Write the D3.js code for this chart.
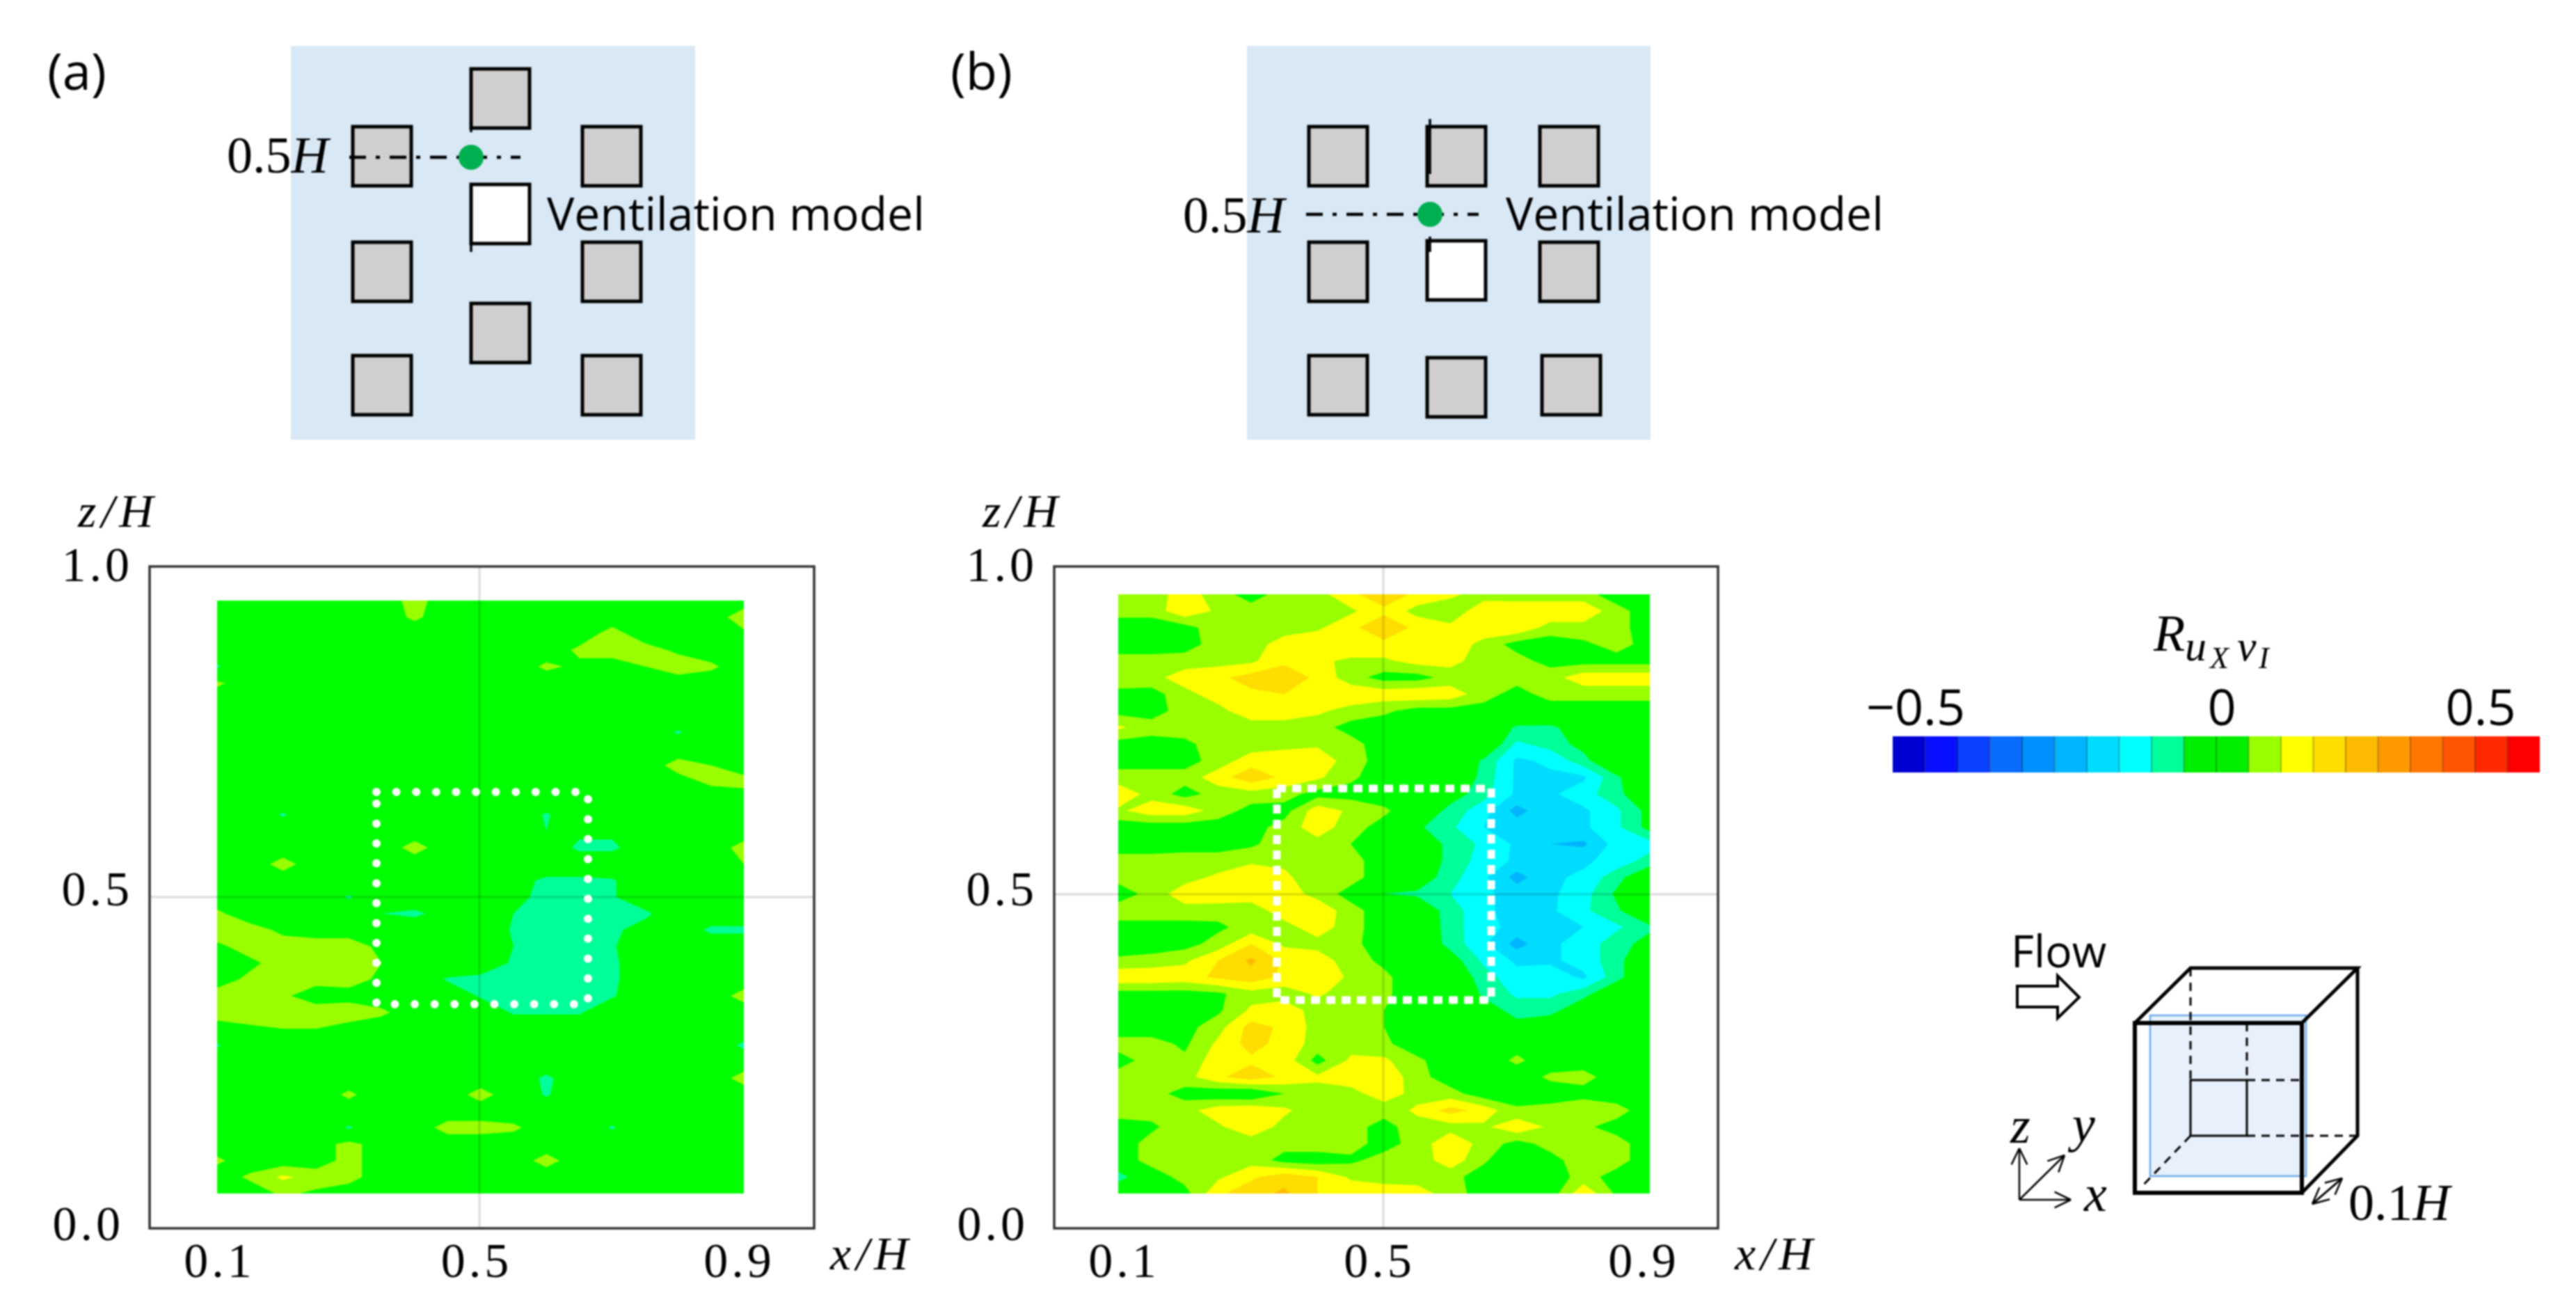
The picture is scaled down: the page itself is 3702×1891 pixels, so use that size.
<!DOCTYPE html>
<html><head><meta charset="utf-8">
<script src="https://cdn.jsdelivr.net/npm/d3@7"></script>
<style>
html,body{margin:0;padding:0;background:#fff}
svg{display:block;filter:blur(0.9px)}
.sans{font-family:"Open Sans","Noto Sans",sans-serif;fill:#000}
.serif{font-family:"Liberation Serif",serif;fill:#000}
.it{font-style:italic}
</style></head><body>
<svg id="c" width="3702" height="1891" xmlns="http://www.w3.org/2000/svg"></svg>
<script>
// Correlation values R, in hundredths. Rows run from top (high z/H) to bottom; columns x/H = 0.1 ... 0.9.
const rowsA = [
[2,2,2,2,2,2,7,2,2,2,2,2,2,2,2,2,2],
[2,2,2,2,2,2,6,2,2,2,2,2,2,2,2,2,8],
[2,2,2,2,2,2,2,2,2,2,2,2,7,2,2,2,4],
[2,2,2,2,2,2,2,2,2,2,2,6,7,7,4,2,2],
[-6,2,2,2,2,2,2,2,2,2,6,4,3,5,8,6,2],
[6,2,2,2,2,2,2,2,2,2,2,2,2,2,2,2,2],
[2,2,2,2,2,2,2,2,2,2,2,2,2,2,2,2,2],
[2,2,2,2,2,2,2,2,2,2,2,2,2,2,2,2,2],
[2,2,2,2,2,2,2,2,2,2,2,2,2,2,-6,2,2],
[2,2,2,2,2,2,2,2,2,2,2,2,2,2,2,2,2],
[2,2,2,2,2,2,2,2,2,2,2,2,2,2,7,5,2],
[2,2,2,2,2,2,2,2,2,2,2,2,2,2,3,6,7],
[2,2,2,2,2,2,2,2,2,2,2,2,2,2,2,2,2],
[2,2,-6,2,2,2,2,2,2,2,-6,2,2,2,2,2,2],
[2,2,2,2,2,2,2,2,2,2,-5,-3,-3,2,2,2,2],
[2,2,2,2,2,2,7,2,2,2,2,-7,-7,1,2,2,7],
[2,2,7,2,2,2,2,2,2,2,2,2,2,2,2,2,5],
[2,2,2,2,2,2,2,2,2,-1,-7,-7,-6,2,2,2,2],
[2,2,2,2,-6,2,2,2,2,-3,-7,-7,-6,2,2,2,2],
[6,2,2,2,2,-5,-7,-1,2,-5,-7,-8,-7,-7,2,2,2],
[8,7,4,3,3,2,2,2,2,-6,-7,-7,-7,-1,2,-7,-7],
[4,7,7,7,7,4,2,2,2,-5,-7,-7,-6,2,2,2,2],
[3,4,7,7,7,5,2,2,0,-6,-7,-7,-7,2,2,2,2],
[3,6,7,7,7,4,2,-6,-7,-7,-7,-7,-7,2,2,2,2],
[7,7,6,2,3,2,2,2,-6,-7,-7,-7,-6,2,2,2,7],
[7,8,8,8,8,6,2,2,2,-6,-6,-6,2,2,2,2,2],
[3,4,5,5,3,2,2,2,2,2,2,2,2,2,2,2,2],
[-6,2,2,2,2,2,2,2,2,2,2,2,2,2,2,2,-7],
[2,2,2,2,2,2,2,2,2,2,2,2,2,2,2,2,2],
[2,2,2,2,2,2,2,2,2,2,-7,2,2,2,2,2,7],
[2,2,2,2,6,2,2,2,7,2,-6,2,2,2,2,2,2],
[2,2,2,2,2,2,2,2,2,2,2,2,2,2,2,2,2],
[2,2,2,2,-6,2,2,7,7,6,2,2,-6,2,2,2,2],
[2,2,2,2,7,2,2,2,2,2,2,2,2,2,2,2,2],
[6,2,2,2,7,2,2,2,2,2,7,2,2,2,2,2,2],
[2,6,11,8,7,2,2,2,2,2,2,2,2,2,2,2,2],
[2,2,6,4,2,2,2,2,2,2,2,2,2,2,2,2,2]
];
const rowsB = [
[7,7,13,7,3,7,8,14,18,14,11,8,7,7,7,2,2],
[7,7,14,9,7,7,7,9,14,8,7,13,14,14,14,7,2],
[2,2,3,8,7,7,9,14,18,14,11,14,14,8,8,7,2],
[2,2,3,7,7,13,14,14,14,14,14,8,3,2,4,7,3],
[7,7,7,8,9,14,11,9,9,12,12,7,7,3,3,3,3],
[7,8,13,14,17,18,14,7,3,3,7,7,7,8,13,13,13],
[4,3,8,13,14,15,14,14,13,14,13,7,3,7,7,7,7],
[3,3,7,8,14,14,11,8,6,3,3,3,3,2,2,2,2],
[11,7,7,7,7,7,7,3,2,2,2,2,-6,-6,-2,1,2],
[3,3,4,7,7,8,9,7,2,2,2,2,-11,-8,-3,2,2],
[3,3,3,7,13,14,14,7,3,2,2,-6,-16,-14,-7,2,2],
[7,7,7,13,18,14,11,6,2,2,2,-7,-16,-16,-16,-6,2],
[14,8,3,7,8,7,3,3,2,2,-2,-8,-16,-16,-12,-7,2],
[9,13,13,8,3,3,13,9,6,1,-7,-13,-22,-16,-16,-11,-3],
[2,2,2,2,3,7,13,7,3,-4,-9,-15,-17,-16,-16,-11,-3],
[2,2,3,3,4,8,8,5,1,1,-7,-11,-16,-20,-21,-13,-12],
[7,7,7,7,9,9,7,7,2,1,-7,-12,-16,-16,-16,-13,-8],
[7,7,8,11,14,11,7,7,2,-1,-8,-14,-22,-16,-14,-7,1],
[2,7,13,14,13,13,8,3,-5,-6,-10,-14,-17,-16,-12,-4,2],
[8,8,8,7,7,13,14,7,2,1,-8,-13,-19,-16,-11,-6,2],
[3,3,3,4,7,8,13,7,2,2,-8,-13,-17,-16,-15,-11,-6],
[2,2,3,7,15,9,8,6,3,1,-7,-14,-22,-16,-13,-7,-3],
[6,7,9,15,21,14,13,7,4,2,-2,-11,-16,-16,-13,-7,2],
[14,14,13,16,18,14,14,9,6,2,1,-8,-13,-12,-16,-7,2],
[3,3,3,4,8,7,11,7,6,2,2,-6,-11,-11,-7,1,2],
[2,2,2,4,11,14,7,7,5,2,2,-2,-7,-7,0,2,2],
[2,2,3,8,17,14,8,7,5,2,2,2,-3,0,2,2,2],
[7,7,4,11,17,13,8,8,6,2,2,2,3,4,2,2,2],
[3,7,6,13,14,13,3,11,11,6,2,2,6,2,2,2,2],
[7,7,8,14,18,14,11,13,14,7,2,2,2,6,7,2,2],
[7,7,3,1,0,5,8,8,13,8,7,2,2,2,3,2,2],
[7,7,8,13,14,11,7,7,7,11,17,13,6,7,9,7,2],
[3,4,8,9,14,8,7,7,3,8,8,9,14,9,6,3,2],
[2,7,7,7,7,7,8,7,3,7,14,8,3,7,8,7,2],
[2,7,7,7,8,3,2,4,7,7,13,6,-1,3,8,7,2],
[-8,2,7,9,14,18,15,9,7,7,7,2,2,2,7,3,2],
[2,2,3,14,18,21,15,14,14,13,7,3,2,2,14,4,2]
];
const bandFloor = d3.range(-50, 50, 5);
const bandColors = ["#0000d0","#0810ff","#0a40ff","#0a6cff","#0090ff","#00b4ff","#00dcff","#00ffff","#00ff99","#00ff00","#00ff00","#99ff00","#ffff00","#ffdd00","#ffbb00","#ff9900","#ff7700","#ff5500","#ff2a00","#ff0000"];
const axisTicks = [0.1, 0.5, 0.9];
const zTicks = [0.0, 0.5, 1.0];
const legendTicks = [-0.5, 0, 0.5];

const W = 17, H = 37;
const svg = d3.select("#c");
const fmt = d3.format(".1f");

const panels = [
 {rows: rowsA, xr: [312,1069], top: 863, bot: 1715, f: [215,814,1170,1765],
  cx: 689, cy: 1289, box: [541,1138,845,1443], dash: "0 28.6", dw: 12, cap: "round",
  xdx: [3,-6,-7], xAxisLab: 1193, zAxisLab: 112, zdy:[1782,1301,835], zr:[178,191,191]},
 {rows: rowsB, xr: [1607,2371], top: 854, bot: 1715, f: [1515,814,2469,1765],
  cx: 1988, cy: 1285, box: [1835,1133,2143,1437], dash: "13 9", dw: 11, cap: "butt",
  xdx: [8,-7,-9], xAxisLab: 2493, zAxisLab: 1412, zdy:[1782,1301,835], zr:[1478,1491,1491]}
];

const defs = svg.append("defs");
panels.forEach((p, pi) => {
  const g = svg.append("g");
  const x = d3.scaleLinear().domain([0.1,0.9]).range(p.xr);
  const z = d3.scaleLinear().domain([0,1]).range([1762,816]);
  // heat-map drawn from the value grid with d3.contours
  const flat = p.rows.flat();
  const contours = d3.contours().size([W,H]).thresholds(bandFloor)(flat);
  const ix = d3.scaleLinear().domain([0.5,W-0.5]).range(p.xr);
  const iy = d3.scaleLinear().domain([0.5,H-0.5]).range([p.top,p.bot]);
  const path = d3.geoPath(d3.geoTransform({point(a,b){this.stream.point(ix(a),iy(b));}}));
  defs.append("clipPath").attr("id","clip"+pi).append("rect")
    .attr("x",p.xr[0]).attr("y",p.top).attr("width",p.xr[1]-p.xr[0]).attr("height",p.bot-p.top);
  g.append("g").attr("clip-path",`url(#clip${pi})`).selectAll("path").data(contours).join("path")
    .attr("d",path).attr("fill",(d,i)=>bandColors[i]);
  // cross hair
  g.append("line").attr("x1",p.cx).attr("x2",p.cx).attr("y1",p.f[1]).attr("y2",p.f[3]).attr("stroke","#000").attr("stroke-opacity",.13).attr("stroke-width",3.5);
  g.append("line").attr("y1",p.cy).attr("y2",p.cy).attr("x1",p.f[0]).attr("x2",p.f[2]).attr("stroke","#000").attr("stroke-opacity",.13).attr("stroke-width",3.5);
  // dotted model outline
  g.append("rect").attr("x",p.box[0]).attr("y",p.box[1]).attr("width",p.box[2]-p.box[0]).attr("height",p.box[3]-p.box[1])
    .attr("fill","none").attr("stroke","#fff").attr("stroke-width",p.dw).attr("stroke-linecap",p.cap).attr("stroke-dasharray",p.dash);
  // frame
  g.append("rect").attr("x",p.f[0]).attr("y",p.f[1]).attr("width",p.f[2]-p.f[0]).attr("height",p.f[3]-p.f[1])
    .attr("fill","none").attr("stroke","#333").attr("stroke-width",3.5);
  // axes
  const ax = g.append("g").attr("transform","translate(0,1835)")
    .call(d3.axisBottom(x).tickValues(axisTicks).tickSize(0).tickFormat(fmt));
  ax.select(".domain").remove();
  ax.selectAll("text").attr("y",0).attr("dy",0).attr("dx",(d,i)=>p.xdx[i])
    .style("font-family",'"Liberation Serif",serif').style("font-size","70px").style("letter-spacing","5px").attr("fill","#000");
  const ay = g.append("g").call(d3.axisLeft(z).tickValues(zTicks).tickSize(0).tickFormat(fmt));
  ay.select(".domain").remove();
  ay.selectAll("g.tick").attr("transform",null);
  ay.selectAll("text").attr("x",(d,i)=>p.zr[i]).attr("dy",0).attr("y",(d,i)=>p.zdy[i])
    .style("font-family",'"Liberation Serif",serif').style("font-size","70px").style("letter-spacing","5px").attr("fill","#000").attr("text-anchor","end");
  g.append("text").attr("class","serif it").attr("x",p.xAxisLab).attr("y",1824).attr("font-size",68).attr("letter-spacing",7).text("x/H");
  g.append("text").attr("class","serif it").attr("x",p.zAxisLab).attr("y",757).attr("font-size",68).attr("letter-spacing",7).text("z/H");
});

// Schematic plan views
const schem = [
 {lab:"(a)", labX:68, bg:[418,66,999,632], cells:[
   [507,182,1],[507,348,1],[507,511,1],[837,182,1],[837,348,1],[837,511,1],[677,99,1],[677,265,0],[677,436,1]],
  dash:[502,748,226], dot:[677,226], vert:[[168,190],[268,362]], h:[326,248], vent:[786,331]},
 {lab:"(b)", labX:1366, bg:[1792,66,2372,632], cells:[
   [1881,182,1],[1881,348,1],[1881,511,1],[2051,182,1],[2051,346,0],[2051,514,1],[2213,182,1],[2213,348,1],[2216,511,1]],
  dash:[1877,2125,308], dot:[2055,308], vert:[[171,250],[340,362]], h:[1700,334], vent:[2164,331]}
];
schem.forEach(s=>{
  const g = svg.append("g");
  g.append("rect").attr("x",s.bg[0]).attr("y",s.bg[1]).attr("width",s.bg[2]-s.bg[0]).attr("height",s.bg[3]-s.bg[1]).attr("fill","#d9e8f5");
  g.selectAll("rect.cell").data(s.cells).join("rect").attr("class","cell")
    .attr("x",d=>d[0]).attr("y",d=>d[1]).attr("width",84).attr("height",85)
    .attr("fill",d=>d[2]?"#d0cece":"#fff").attr("stroke","#000").attr("stroke-width",5);
  s.vert.forEach(v=>g.append("line").attr("x1",s.dot[0]).attr("x2",s.dot[0]).attr("y1",v[0]).attr("y2",v[1]).attr("stroke","#000").attr("stroke-width",3.5));
  g.append("line").attr("x1",s.dash[0]).attr("x2",s.dash[1]).attr("y1",s.dash[2]).attr("y2",s.dash[2])
    .attr("stroke","#000").attr("stroke-width",4.5).attr("stroke-dasharray","24 14 6 14");
  g.append("circle").attr("cx",s.dot[0]).attr("cy",s.dot[1]).attr("r",18).attr("fill","#00b050");
  g.append("text").attr("class","sans").attr("x",s.labX).attr("y",129).attr("font-size",74).text(s.lab);
  const t = g.append("text").attr("class","serif").attr("x",s.h[0]).attr("y",s.h[1]).attr("font-size",74);
  t.append("tspan").text("0.5");
  t.append("tspan").attr("font-style","italic").text("H");
  g.append("text").attr("class","sans").attr("x",s.vent[0]).attr("y",s.vent[1]).attr("font-size",66).text("Ventilation model");
});

// Colour bar
const legX = d3.scaleLinear().domain([-0.5,0.5]).range([2720,3650]);
const legG = svg.append("g");
legG.selectAll("rect").data(bandFloor).join("rect")
  .attr("x",d=>legX(d/100)).attr("y",1058).attr("width",d=>legX((d+5)/100)-legX(d/100)).attr("height",52)
  .attr("fill",(d,i)=>bandColors[i]==="#00ff00"?"#00ee00":bandColors[i]);
legG.selectAll("line").data(bandFloor.slice(1)).join("line")
  .attr("x1",d=>legX(d/100)).attr("x2",d=>legX(d/100)).attr("y1",1058).attr("y2",1110)
  .attr("stroke","#000").attr("stroke-opacity",.28).attr("stroke-width",2);
const legLabelX = d3.scaleLinear().domain([-0.5,0,0.5]).range([2753,3193,3565]);
legG.selectAll("text").data(legendTicks).join("text").attr("class","sans")
  .attr("x",d=>legLabelX(d)).attr("y",1042).attr("font-size",72).attr("text-anchor","middle")
  .text(d=>d===0?"0":(d<0?"\u2212":"")+Math.abs(d).toFixed(1));
[["R",3095,935,74],["u",3140,949,62],["X",3176,960,44],["v",3215,949,62],["I",3246,960,44]].forEach(t=>
  legG.append("text").attr("class","serif it").attr("x",t[1]).attr("y",t[2]).attr("font-size",t[3]).text(t[0]));

// Flow / cube inset
const cube = svg.append("g").attr("fill","none").attr("stroke","#000");
cube.append("text").attr("class","sans").attr("x",2890).attr("y",1390).attr("font-size",64).attr("stroke","none").text("Flow");
cube.append("path").attr("d","M2899 1417H2957V1402L2988 1433L2957 1463V1447H2899Z").attr("fill","#fff").attr("stroke-width",4);
cube.append("rect").attr("x",3090).attr("y",1459).attr("width",224).attr("height",231).attr("fill","#e8f1fb").attr("stroke","#6aa9e9").attr("stroke-width",2.5);
const seg=(a,b,c,d,w,da)=>cube.append("line").attr("x1",a).attr("y1",b).attr("x2",c).attr("y2",d).attr("stroke-width",w).attr("stroke-dasharray",da||null);
seg(3148,1391,3148,1552,3,"12 9");
seg(3229,1470,3229,1552,3,"12 9");
seg(3229,1552,3308,1552,3,"12 9");
seg(3229,1632,3388,1632,3,"12 9");
seg(3148,1632,3079,1704,3,"12 9");
cube.append("rect").attr("x",3148).attr("y",1552).attr("width",81).attr("height",80).attr("stroke-width",3);
cube.append("rect").attr("x",3068).attr("y",1470).attr("width",240).attr("height",244).attr("stroke-width",6);
cube.append("path").attr("d","M3068 1470L3148 1391H3388L3308 1470M3388 1391V1632L3308 1714").attr("stroke-width",5);
const arrow=(a,b,c,d)=>{seg(a,b,c,d,2.5);
  const th=Math.atan2(d-b,c-a),L=26;[-.45,.45].forEach(k=>seg(c,d,c-L*Math.cos(th+k),d-L*Math.sin(th+k),2.5));};
arrow(2902,1724,2902,1650);arrow(2902,1724,2967,1660);arrow(2902,1724,2976,1724);
arrow(3323,1730,3366,1693);arrow(3366,1693,3323,1730);
[["z",2889,1642],["y",2978,1640],["x",2995,1740]].forEach(t=>cube.append("text").attr("class","serif it").attr("stroke","none").attr("x",t[1]).attr("y",t[2]).attr("font-size",74).text(t[0]));
const th=cube.append("text").attr("class","serif").attr("stroke","none").attr("x",3375).attr("y",1753).attr("font-size",74);
th.append("tspan").text("0.1");th.append("tspan").attr("font-style","italic").text("H");
</script>
</body></html>
